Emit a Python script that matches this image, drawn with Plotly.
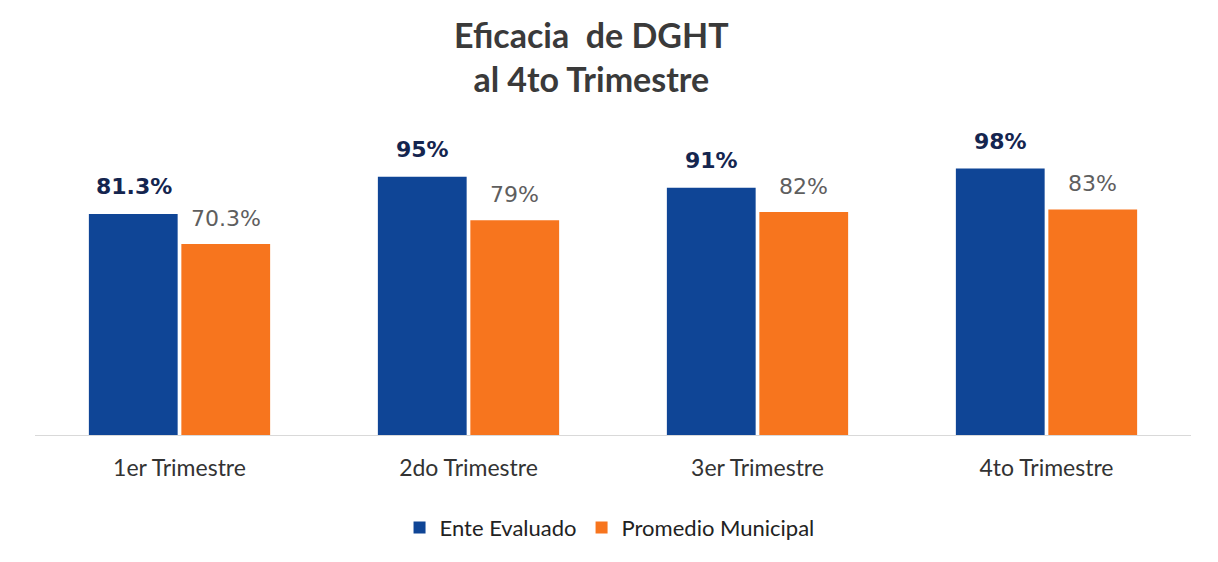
import plotly.graph_objects as go

categories = ["1er Trimestre", "2do Trimestre", "3er Trimestre", "4to Trimestre"]
ente_values = [81.3, 95, 91, 98]
ente_labels = ["81.3%", "95%", "91%", "98%"]
prom_values = [70.3, 79, 82, 83]
prom_labels = ["70.3%", "79%", "82%", "83%"]

BLUE = "#0F4596"
ORANGE = "#F7751E"

fig = go.Figure()
fig.add_trace(go.Bar(name="Ente Evaluado", x=categories, y=ente_values,
                     marker=dict(color=BLUE, line=dict(width=0)), hoverinfo="skip"))
fig.add_trace(go.Bar(name="Promedio Municipal", x=categories, y=prom_values,
                     marker=dict(color=ORANGE, line=dict(width=0)), hoverinfo="skip"))

annotations = []
for c, v, t in zip(categories, ente_values, ente_labels):
    annotations.append(dict(x=c, y=v, text="<b>" + t + "</b>", showarrow=False,
                            xshift=-46, yshift=13, yanchor="bottom",
                            font=dict(family="DejaVu Sans", size=22, color="#14254F")))
for c, v, t in zip(categories, prom_values, prom_labels):
    annotations.append(dict(x=c, y=v, text=t, showarrow=False,
                            xshift=46, yshift=11, yanchor="bottom",
                            font=dict(family="DejaVu Sans", size=22, color="#5E5E5E")))

annotations.append(dict(xref="paper", yref="paper", x=0.481, y=1.415, xanchor="center",
                        yanchor="top", showarrow=False,
                        text="<b>Eficacia  de DGHT<br>al 4to Trimestre</b>",
                        font=dict(family="Lato", size=34, color="#3A3A3A")))

fig.update_layout(
    width=1218, height=562,
    margin=dict(l=27, r=35, t=128, b=135, autoexpand=False),
    paper_bgcolor="white", plot_bgcolor="white",
    barmode="group", bargap=0.36, bargroupgap=0.04,
    xaxis=dict(showline=True, linecolor="#D9D9D9", linewidth=1, ticks="",
               tickfont=dict(family="Lato", size=23, color="#333333"),
               ticklabelstandoff=12, showgrid=False),
    yaxis=dict(range=[0, 110], visible=False, showgrid=False),
    legend=dict(orientation="h", x=0.497, xanchor="center", y=-0.24, yanchor="top",
                font=dict(family="Lato", size=22, color="#222222"),
                itemwidth=30, traceorder="normal"),
    annotations=annotations,
    showlegend=True,
)

fig.write_html("out.html")
